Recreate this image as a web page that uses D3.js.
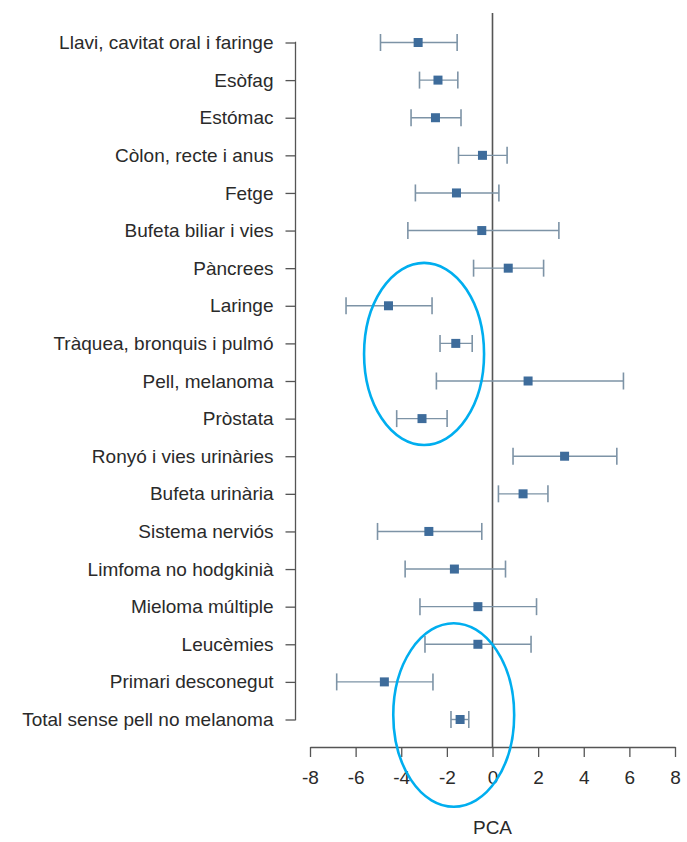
<!DOCTYPE html>
<html>
<head>
<meta charset="utf-8">
<script src="https://cdn.jsdelivr.net/npm/d3@7"></script>
<style>
  html, body { margin: 0; padding: 0; background: #fff; }
  svg { display: block; }
  text { font-family: "Liberation Sans", Arial, sans-serif; }
</style>
</head>
<body>
<svg id="chart" width="687" height="842"></svg>
<script>
const categories = [
  "Llavi, cavitat oral i faringe", "Esòfag", "Estómac", "Còlon, recte i anus",
  "Fetge", "Bufeta biliar i vies", "Pàncrees", "Laringe",
  "Tràquea, bronquis i pulmó", "Pell, melanoma", "Pròstata",
  "Ronyó i vies urinàries", "Bufeta urinària", "Sistema nerviós",
  "Limfoma no hodgkinià", "Mieloma múltiple", "Leucèmies",
  "Primari desconegut", "Total sense pell no melanoma"
];
const estimate = [-3.26, -2.39, -2.50, -0.44, -1.58, -0.47, 0.69, -4.56, -1.61, 1.56, -3.09, 3.16, 1.34, -2.79, -1.67, -0.64, -0.64, -4.74, -1.42];
const lower    = [-4.91, -3.20, -3.57, -1.49, -3.38, -3.71, -0.83, -6.42, -2.30, -2.46, -4.20, 0.90, 0.26, -5.04, -3.83, -3.18, -2.96, -6.83, -1.82];
const upper    = [-1.55, -1.52, -1.38, 0.64, 0.28, 2.91, 2.24, -2.65, -0.89, 5.74, -1.99, 5.45, 2.43, -0.47, 0.57, 1.93, 1.69, -2.61, -1.04];
const xTicks = [-8, -6, -4, -2, 0, 2, 4, 6, 8];
const xTitle = "PCA";
// highlight ellipses: centre on value axis, centre as (fractional) row index, radii in value units / rows
const hlCenterX = [-3.0, -1.7];
const hlCenterRow = [8.28, 17.88];
const hlRadiusX = [2.63, 2.65];
const hlRadiusRows = [2.42, 2.44];

const svg = d3.select("#chart");
const x = d3.scaleLinear().domain([-8, 8]).range([310, 675]);
const y = d3.scalePoint().domain(categories).range([42.5, 719.5]);
const rowY = r => y.range()[0] + r * y.step();

const axisColor = "#555";
const textColor = "#2a2a2a";
const fontSize = "19px";

// zero reference line
svg.append("line")
  .attr("x1", x(0)).attr("x2", x(0))
  .attr("y1", 13).attr("y2", 747)
  .attr("stroke", "#555").attr("stroke-width", 1.6);

// y axis (R style)
const yAxis = svg.append("g").attr("transform", "translate(295.5,0)")
  .call(d3.axisLeft(y).tickSize(10).tickPadding(12));
yAxis.select(".domain").attr("d", `M-0.5,${y(categories[0])}H0V${y(categories[categories.length-1])}H-0.5`)
  .attr("stroke", axisColor).attr("stroke-width", 1.3);
yAxis.selectAll(".tick line").attr("stroke", axisColor).attr("stroke-width", 1.3);
yAxis.selectAll(".tick text").attr("fill", textColor).attr("font-size", fontSize)
  .attr("font-family", "'Liberation Sans', Arial, sans-serif");

// x axis
const xAxis = svg.append("g").attr("transform", "translate(0,747)")
  .call(d3.axisBottom(x).tickValues(xTicks).tickSize(10).tickPadding(14).tickSizeOuter(0)
    .tickFormat(d => d < 0 ? "-" + Math.abs(d) : String(d)));
xAxis.select(".domain").attr("stroke", axisColor).attr("stroke-width", 1.3);
xAxis.selectAll(".tick line").attr("stroke", axisColor).attr("stroke-width", 1.3);
xAxis.selectAll(".tick text").attr("fill", textColor).attr("font-size", fontSize)
  .attr("font-family", "'Liberation Sans', Arial, sans-serif");

svg.append("text")
  .attr("x", x(0)).attr("y", 834)
  .attr("text-anchor", "middle")
  .attr("fill", textColor).attr("font-size", fontSize)
  .text(xTitle);

// error bars
const rows = categories.map((c, i) => ({ c, est: estimate[i], lo: lower[i], hi: upper[i] }));
const barColor = "#7d93a6";
const g = svg.append("g");
g.selectAll("line.ci").data(rows).join("line")
  .attr("x1", d => x(d.lo)).attr("x2", d => x(d.hi))
  .attr("y1", d => y(d.c)).attr("y2", d => y(d.c))
  .attr("stroke", barColor).attr("stroke-width", 1.4);
g.selectAll("line.capL").data(rows).join("line")
  .attr("x1", d => x(d.lo)).attr("x2", d => x(d.lo))
  .attr("y1", d => y(d.c) - 8.5).attr("y2", d => y(d.c) + 8.5)
  .attr("stroke", barColor).attr("stroke-width", 1.6);
g.selectAll("line.capR").data(rows).join("line")
  .attr("x1", d => x(d.hi)).attr("x2", d => x(d.hi))
  .attr("y1", d => y(d.c) - 8.5).attr("y2", d => y(d.c) + 8.5)
  .attr("stroke", barColor).attr("stroke-width", 1.6);
g.selectAll("rect.pt").data(rows).join("rect")
  .attr("x", d => x(d.est) - 4.5).attr("y", d => y(d.c) - 4.5)
  .attr("width", 9).attr("height", 9)
  .attr("fill", "#3e6c9b");

// highlight ellipses
const hl = hlCenterX.map((cx, i) => ({ cx, row: hlCenterRow[i], rx: hlRadiusX[i], ry: hlRadiusRows[i] }));
svg.selectAll("ellipse.hl").data(hl).join("ellipse")
  .attr("cx", d => x(d.cx))
  .attr("cy", d => rowY(d.row))
  .attr("rx", d => x(d.rx) - x(0))
  .attr("ry", d => d.ry * y.step())
  .attr("fill", "none")
  .attr("stroke", "#00aeef")
  .attr("stroke-width", 2.6);
</script>
</body>
</html>
